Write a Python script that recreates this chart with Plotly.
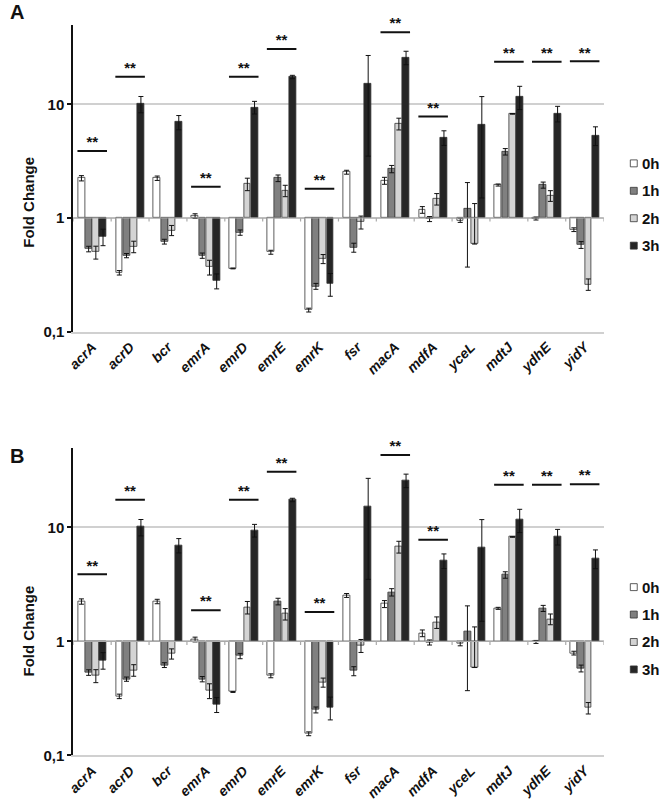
import plotly.graph_objects as go

genes = ["acrA", "acrD", "bcr", "emrA", "emrD", "emrE", "emrK", "fsr", "macA", "mdfA", "yceL", "mdtJ", "ydhE", "yidY"]
series_names = ["0h", "1h", "2h", "3h"]

v0h = [2.24, 0.33, 2.24, 1.04, 0.36, 0.50, 0.155, 2.53, 2.13, 1.18, 0.955, 1.95, 0.99, 0.79]
v1h = [0.534, 0.467, 0.62, 0.467, 0.745, 2.24, 0.251, 0.55, 2.70, 0.98, 1.21, 3.83, 1.95, 0.58]
v2h = [0.50, 0.56, 0.78, 0.37, 1.99, 1.74, 0.437, 0.92, 6.75, 1.47, 0.59, 8.24, 1.57, 0.261]
v3h = [0.684, 10.07, 6.97, 0.28, 9.42, 17.4, 0.265, 15.2, 25.8, 5.1, 6.6, 11.7, 8.3, 5.34]

e0h = [0.12, 0.015, 0.1, 0.05, 0.003, 0.02, 0.006, 0.1, 0.15, 0.08, 0.04, 0.04, 0.03, 0.03]
e1h = [0.03, 0.02, 0.03, 0.025, 0.04, 0.15, 0.015, 0.05, 0.2, 0.05, 0.84, 0.25, 0.12, 0.04]
e2h = [0.065, 0.065, 0.08, 0.055, 0.25, 0.2, 0.04, 0.12, 0.8, 0.17, 0.75, 0.05, 0.17, 0.03]
e2h_minus = [0.065, 0.065, 0.08, 0.055, 0.25, 0.2, 0.04, 0.12, 0.8, 0.17, 0.0, 0.05, 0.17, 0.03]
e3h = [0.113, 1.65, 1.0, 0.042, 1.2, 0.6, 0.06, 11.7, 3.5, 0.75, 5.1, 2.7, 1.3, 1.0]

sig_genes = ["acrA", "acrD", "emrA", "emrD", "emrE", "emrK", "macA", "mdfA", "mdtJ", "ydhE", "yidY"]
sig_heights = [3.88, 17.5, 1.88, 17.5, 30.7, 1.81, 43.1, 7.8, 23.7, 23.7, 23.9]
sig_label = "**"

ytick_vals = [0.1, 1, 10]
ytick_text = ["0,1", "1", "10"]

values = [v0h, v1h, v2h, v3h]
errors_plus = [e0h, e1h, e2h, e3h]
errors_minus = [e0h, e1h, e2h_minus, e3h]
fills = ["#ffffff", "#808080", "#d4d4d4", "#262626"]

FONT = "Liberation Sans"
W, H = 660, 810
bar_w = 0.18
step = 0.19

fig = go.Figure()
idx = list(range(len(genes)))

for panel in (1, 2):
    xa = "x" if panel == 1 else "x2"
    ya = "y" if panel == 1 else "y2"
    for j, name in enumerate(series_names):
        xs = [i + (j - 1.5) * step for i in idx]
        vals = values[j]
        fig.add_trace(go.Bar(
            x=xs, y=[v - 1 for v in vals], base=[1] * len(vals),
            width=bar_w, name=name, marker=dict(color=fills[j], line=dict(color="#333333", width=0.8)),
            xaxis=xa, yaxis=ya, showlegend=False, hoverinfo="skip",
        ))
    for j, name in enumerate(series_names):
        xs = [i + (j - 1.5) * step for i in idx]
        fig.add_trace(go.Scatter(
            x=xs, y=values[j], mode="markers",
            marker=dict(size=1, color="rgba(0,0,0,0)"),
            error_y=dict(type="data", array=errors_plus[j], arrayminus=errors_minus[j], visible=True,
                         color="#111111", thickness=1, width=2.5),
            xaxis=xa, yaxis=ya, showlegend=False, hoverinfo="skip",
        ))
    # baseline at 1 with category separator ticks
    bx, by = [-0.5, len(genes) - 0.5, None], [1, 1, None]
    for k in range(len(genes) + 1):
        bx += [k - 0.5, k - 0.5, None]
        by += [1, 0.93, None]
    fig.add_trace(go.Scatter(x=bx, y=by, mode="lines", line=dict(color="#aaaaaa", width=1.2),
                             xaxis=xa, yaxis=ya, showlegend=False, hoverinfo="skip"))
    # significance lines
    lx, ly = [], []
    tx, ty = [], []
    for g, h in zip(sig_genes, sig_heights):
        i = genes.index(g)
        lx += [i - 0.39, i + 0.39, None]
        ly += [h, h, None]
        tx.append(i)
        ty.append(h)
    fig.add_trace(go.Scatter(x=lx, y=ly, mode="lines", line=dict(color="#111111", width=2),
                             xaxis=xa, yaxis=ya, showlegend=False, hoverinfo="skip", cliponaxis=False))
    fig.add_trace(go.Scatter(x=tx, y=ty, mode="text", text=[sig_label] * len(tx), textposition="top center",
                             textfont=dict(family=FONT, size=15, color="#111111", weight="bold"),
                             xaxis=xa, yaxis=ya, showlegend=False, hoverinfo="skip", cliponaxis=False))

xdom = [67 / W, 603 / W]
ydomA = [1 - 335 / H, 1 - 25 / H]
ydomB = [1 - 763 / H, 1 - 452 / H]

xcommon = dict(range=[-0.5, len(genes) - 0.5], tickvals=idx, ticktext=genes, tickangle=-45,
               tickfont=dict(family=FONT, size=14, color="#111111", weight="bold", style="italic"),
               showgrid=False, zeroline=False, showline=True, linecolor="#d0d0d0", linewidth=1.5,
               ticks="", domain=xdom)
ycommon = dict(type="log", range=[-1, 1.70], tickvals=ytick_vals, ticktext=ytick_text,
               tickfont=dict(family=FONT, size=15, color="#111111", weight="bold"),
               showgrid=True, gridcolor="#d0d0d0", gridwidth=1.5, zeroline=False,
               showline=True, linecolor="#111111", linewidth=2, ticks="outside", ticklen=4,
               tickcolor="#111111", tickwidth=1.5)

annotations = [
    dict(text="<b>A</b>", x=1 / W, y=1 - 12 / H, xref="paper", yref="paper", xanchor="left",
         yanchor="middle", showarrow=False, font=dict(family=FONT, size=20, color="#111111")),
    dict(text="<b>B</b>", x=1 / W, y=1 - 461 / H, xref="paper", yref="paper", xanchor="left",
         yanchor="middle", showarrow=False, font=dict(family=FONT, size=20, color="#111111")),
    dict(text="<b>Fold Change</b>", x=22 / W, y=1 - 204 / H, xref="paper", yref="paper",
         xanchor="center", yanchor="middle",
         textangle=-90, showarrow=False, font=dict(family=FONT, size=15, color="#111111")),
    dict(text="<b>Fold Change</b>", x=22 / W, y=1 - 637 / H, xref="paper", yref="paper",
         xanchor="center", yanchor="middle",
         textangle=-90, showarrow=False, font=dict(family=FONT, size=15, color="#111111")),
]
shapes = []
# manual legends (one per panel)
for top in (165, 593):
    for j, name in enumerate(series_names):
        cy = top + j * 27.7
        shapes.append(dict(type="rect", xref="paper", yref="paper",
                           x0=630 / W, x1=637 / W, y0=1 - (cy + 3.5) / H, y1=1 - (cy - 3.5) / H,
                           fillcolor=fills[j], line=dict(color="#333333", width=0.8)))
        annotations.append(dict(text=f"<b>{name}</b>", x=640 / W, y=1 - cy / H, xref="paper", yref="paper",
                                xanchor="left", yanchor="middle", showarrow=False,
                                font=dict(family=FONT, size=15, color="#111111")))

fig.update_layout(
    width=W, height=H, margin=dict(l=0, r=0, t=0, b=0),
    plot_bgcolor="white", paper_bgcolor="white",
    barmode="overlay", bargap=0, showlegend=False,
    font=dict(family=FONT, color="#111111"),
    xaxis=dict(**xcommon, anchor="y"),
    yaxis=dict(**ycommon, domain=ydomA, anchor="x"),
    xaxis2=dict(**xcommon, anchor="y2"),
    yaxis2=dict(**ycommon, domain=ydomB, anchor="x2"),
    annotations=annotations,
    shapes=shapes,
)

fig.write_html("out.html", config={"displayModeBar": False},
               post_script="document.body.style.margin='0px';")
